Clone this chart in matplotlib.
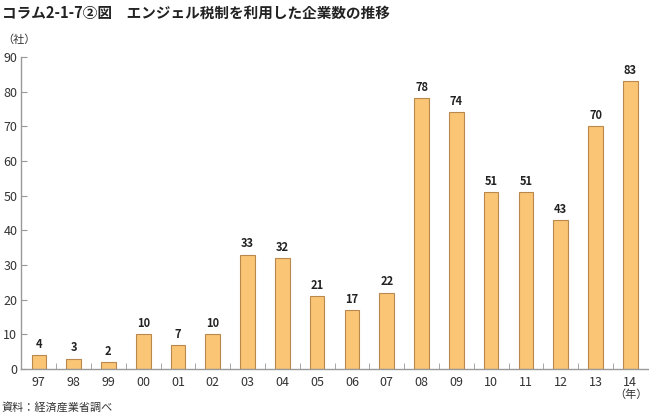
import numpy as np
import matplotlib
matplotlib.use('Agg')
import matplotlib.pyplot as plt

plt.rcParams['font.family'] = ['Noto Sans CJK JP', 'DejaVu Sans']

# 年（西暦下2桁）
years = ['97', '98', '99', '00', '01', '02', '03', '04', '05', '06',
         '07', '08', '09', '10', '11', '12', '13', '14']
# 企業数（社）
counts = [4, 3, 2, 10, 7, 10, 33, 32, 21, 17, 22, 78, 74, 51, 51, 43, 70, 83]

fig = plt.figure(figsize=(6.49, 4.15), dpi=100)
ax = fig.add_axes([0.033, 0.111, 0.965, 0.752])

x = np.arange(len(years))
bars = ax.bar(x, counts, width=0.42, color='#fac575', edgecolor='#b8884c', linewidth=0.8)

for xi, v in zip(x, counts):
    ax.text(xi, v + 1.2, str(v), ha='center', va='bottom', fontsize=8, fontweight='bold', color='#222222')

ax.set_xlim(-0.5, len(years) - 0.5)
ax.set_ylim(0, 90)
ax.set_yticks(np.arange(0, 91, 10))
ax.set_xticks(x)
ax.set_xticklabels(years)
ax.set_xticks(np.arange(0.5, len(years) - 0.5, 1), minor=True)

for s in ['top', 'right']:
    ax.spines[s].set_visible(False)
for s in ['left', 'bottom']:
    ax.spines[s].set_color('#999999')
    ax.spines[s].set_linewidth(1.0)

ax.tick_params(axis='y', direction='in', length=4, color='#999999', labelsize=9, pad=3, labelcolor='#333333')
ax.tick_params(axis='x', which='major', length=0, labelsize=9, pad=5, labelcolor='#333333')
ax.tick_params(axis='x', which='minor', direction='in', length=4, color='#999999')

fig.text(0.003, 0.988, 'コラム2-1-7②図　エンジェル税制を利用した企業数の推移', fontsize=10.5, fontweight='bold', va='top', ha='left', color='#222222')
fig.text(0.003, 0.905, '（社）', fontsize=8, va='center', ha='left', color='#333333')
fig.text(0.972, 0.05, '（年）', fontsize=8, va='center', ha='center', color='#333333')
fig.text(0.003, 0.005, '資料：経済産業省調べ', fontsize=8, va='bottom', ha='left', color='#333333')

fig.savefig('out.png', dpi=100)
